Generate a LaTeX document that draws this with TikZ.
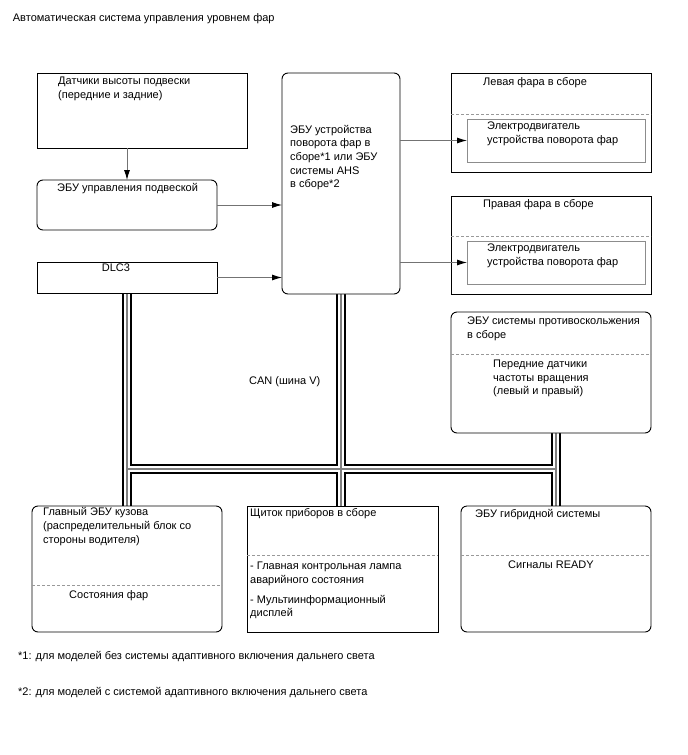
\documentclass[tikz,border=0pt]{standalone}
\usepackage{fontspec}
\setmainfont{Liberation Sans}
\usetikzlibrary{arrows.meta}
\pgfdeclarelayer{background}
\pgfsetlayers{background,main}
\begin{document}
\begin{tikzpicture}[x=1pt,y=-1pt,
  boxs/.style={draw=black, line width=0.9pt, fill=white, inner sep=0pt, outer sep=0pt, anchor=north west},
  boxr/.style={boxs, rounded corners=6pt},
  inbox/.style={draw=black!45, line width=0.9pt, fill=white, inner sep=0pt, outer sep=0pt, anchor=north west},
  sepline/.style={draw=black!40, line width=0.9pt, dash pattern=on 3pt off 2pt},
  lbl/.style={anchor=north west, inner sep=0pt, align=left, font=\fontsize{11}{13.6}\selectfont},
  conn/.style={draw=black!55, line width=0.9pt, -{Latex[length=10pt,width=6pt,black]}},
  busout/.style={draw=black, line width=2.2pt, double=white, double distance=5.6pt},
  busmid/.style={draw=black!50, line width=1.2pt},
]
\useasboundingbox (0,0) rectangle (688,755);

% boxes
\node[boxs, minimum width=210pt, minimum height=75pt] (sens) at (37,73) {};
\node[boxr, minimum width=180pt, minimum height=50pt] (susp) at (37,180) {};
\node[boxs, minimum width=180pt, minimum height=31pt] (dlc) at (37,262) {};
\node[boxr, minimum width=118pt, minimum height=221pt] (ecu) at (282,73) {};
\node[boxs, minimum width=200pt, minimum height=99pt] (lh) at (451,73) {};
\node[boxs, minimum width=200pt, minimum height=98pt] (rh) at (451,196) {};
\node[boxr, minimum width=200pt, minimum height=121pt] (abs) at (451,312) {};
\node[boxr, minimum width=190pt, minimum height=126pt] (body) at (32,506) {};
\node[boxs, minimum width=191pt, minimum height=126pt] (meter) at (247,506) {};
\node[boxr, minimum width=190pt, minimum height=126pt] (hv) at (461,506) {};

% dashed separators
\draw[sepline] (lh.west |- 0,114) -- (lh.east |- 0,114);
\draw[sepline] (rh.west |- 0,236) -- (rh.east |- 0,236);
\draw[sepline] (abs.west |- 0,354) -- (abs.east |- 0,354);
\draw[sepline] (body.west |- 0,585) -- (body.east |- 0,585);
\draw[sepline] (meter.west |- 0,555) -- (meter.east |- 0,555);
\draw[sepline] (hv.west |- 0,555) -- (hv.east |- 0,555);

% inner boxes
\node[inbox, minimum width=178pt, minimum height=43pt] (lhm) at (467,119) {};
\node[inbox, minimum width=178pt, minimum height=43pt] (rhm) at (467,241) {};

% CAN bus
\coordinate (busL) at (127,469);
\coordinate (busR) at (557,469);
\begin{pgfonlayer}{background}
\draw[busout] (dlc.south) -- (body.north) (ecu.south) -- (ecu.south |- meter.north)
  (hv.north |- abs.south) -- (hv.north) (busL) -- (busR);
\draw[busmid] (dlc.south) -- (body.north) (ecu.south) -- (ecu.south |- meter.north)
  (hv.north |- abs.south) -- (hv.north) (busL) -- (busR);
\end{pgfonlayer}

% texts
\node[lbl] (title) at (12.7,13) {Автоматическая система управления уровнем фар};
\node[lbl] (senst) at (58,77) {Датчики высоты подвески\\(передние и задние)};
\node[lbl] (suspt) at (57,183.5) {ЭБУ управления подвеской};
\node[lbl, anchor=north] (dlct) at (116,264) {DLC3};
\node[lbl] (ecut) at (290,125) {ЭБУ устройства\\поворота фар в\\сборе*1 или ЭБУ\\системы AHS\\в сборе*2};
\node[lbl] (lht) at (483,77) {Левая фара в сборе};
\node[lbl] (lhmt) at (487,122) {Электродвигатель\\устройства поворота фар};
\node[lbl] (rht) at (483,199) {Правая фара в сборе};
\node[lbl] (rhmt) at (487,244) {Электродвигатель\\устройства поворота фар};
\node[lbl] (abst) at (467,317) {ЭБУ системы противоскольжения\\в сборе};
\node[lbl] (absm) at (493,360) {Передние датчики\\частоты вращения\\(левый и правый)};
\node[lbl] (cant) at (249,376) {CAN (шина V)};
\node[lbl] (bodyt) at (43,507.5) {Главный ЭБУ кузова\\(распределительный блок со\\стороны водителя)};
\node[lbl] (bodym) at (69,590) {Состояния фар};
\node[lbl] (metert) at (250,508.5) {Щиток приборов в сборе};
\node[lbl] (meterm1) at (250,562) {- Главная контрольная лампа\\аварийного состояния};
\node[lbl] (meterm2) at (250,595) {- Мультиинформационный\\дисплей};
\node[lbl] (hvt) at (475,509) {ЭБУ гибридной системы};
\node[lbl] (hvm) at (508,561) {Сигналы READY};
\node[lbl] (foot1) at (18,651) {*1: для моделей без системы адаптивного включения дальнего света};
\node[lbl] (foot2) at (18,687) {*2: для моделей с системой адаптивного включения дальнего света};

% connectors
\draw[conn] (susp.north |- sens.south) -- (susp.north);
\draw[conn] (susp.east) -- (susp.east -| ecu.west);
\draw[conn] (dlc.east) -- (dlc.east -| ecu.west);
\draw[conn] (lhm.west -| ecu.east) -- (lhm.west);
\draw[conn] (rhm.west -| ecu.east) -- (rhm.west);
\end{tikzpicture}
\end{document}
